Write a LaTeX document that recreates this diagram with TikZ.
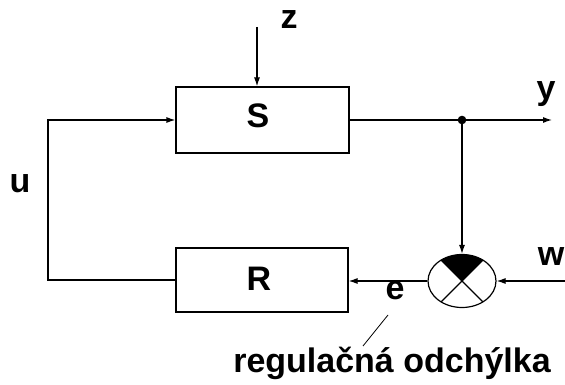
\documentclass[tikz,border=0pt]{standalone}
\usepackage{fontspec}
\setmainfont{Liberation Sans}
\usetikzlibrary{arrows.meta,shapes.geometric}
\begin{document}
\begin{tikzpicture}[x=1pt,y=-1pt,
  line width=1.2pt,
  font=\bfseries\fontsize{34}{40}\selectfont,
  blockbox/.style={draw, line width=1.2pt, rectangle, inner sep=0pt},
  arr/.style={-{Latex[length=9pt,width=6pt]}},
  lbl/.style={inner sep=0pt, anchor=base},
  sumnode/.style={draw, ellipse, inner sep=0pt, minimum width=68pt, minimum height=53pt,
    path picture={
      \fill (path picture bounding box.center) -- ++(-40pt,40pt) -- ++(80pt,0pt) -- cycle;
      \draw (path picture bounding box.center) ++(-40pt,-40pt) -- ++(80pt,80pt);
      \draw (path picture bounding box.center) ++(40pt,-40pt) -- ++(-80pt,80pt);
    }}]
\useasboundingbox (0,0) rectangle (565,385);
% blocks
\node[blockbox, minimum width=173pt, minimum height=66pt] (S) at (262.5,120) {};
\node[blockbox, minimum width=172pt, minimum height=64pt] (R) at (262,280) {};
\node[sumnode] (sum) at (462,281) {};
% labels
\node[lbl] (Slbl) at (258,128) {S};
\node[lbl] (Rlbl) at (259,290) {R};
\node[lbl] (zlbl) at (289,29) {z};
\node[lbl] (ylbl) at (546,100) {y};
\node[lbl] (ulbl) at (20,193) {u};
\node[lbl] (wlbl) at (551,265) {w};
\node[lbl] (elbl) at (395,299) {e};
\node[lbl] (note) at (392,372) {regulačná odchýlka};
% coordinates
\coordinate (ztop) at (257,27);
\coordinate (dot) at (462,120);
\coordinate (yend) at (552,120);
\coordinate (wstart) at (565,281);
\coordinate (uleft) at (48,280);
\coordinate (ntop) at (388,315);
\coordinate (nbot) at (363,346);
% connectors
\draw[arr] (ztop) -- (ztop |- S.north);
\draw[arr] (S.east) -- (dot) -- (yend);
\fill (dot) circle (4.3pt);
\draw[arr] (dot) -- (sum.north);
\draw[arr] (wstart) -- (sum.east);
\draw[arr] (sum.west) -- (R.east |- sum.west);
\draw[arr] (R.west) -- (uleft) -- (uleft |- S.west) -- (S.west);
\draw[line width=0.8pt] (ntop) -- (nbot);
\end{tikzpicture}
\end{document}
